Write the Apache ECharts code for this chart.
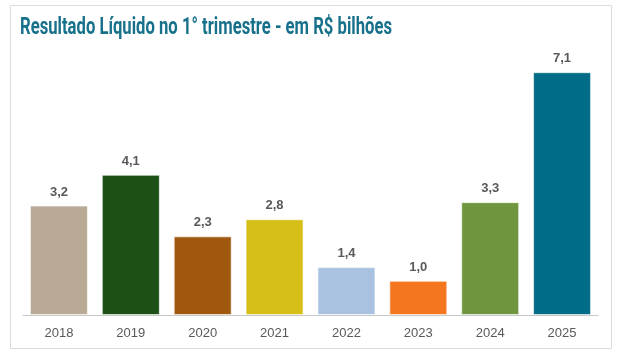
<!DOCTYPE html>
<html><head><meta charset="utf-8">
<script src="https://cdn.jsdelivr.net/npm/echarts@6/dist/echarts.min.js"></script>
<style>html,body{margin:0;padding:0;background:#fff}#c{width:619px;height:357px}</style>
</head><body><div id="c"></div>
<script>
const years = ['2018','2019','2020','2021','2022','2023','2024','2025'];
const values = [3.2, 4.1, 2.3, 2.8, 1.4, 1.0, 3.3, 7.1];
const colors = ['#b9aa95','#1d5016','#a0570e','#d6bf18','#a8c2e0','#f47720','#6f963e','#006c87'];
const titleText = 'Resultado Líquido no 1° trimestre - em R$ bilhões';

const titleFont = 'bold 23px Roboto';
const mctx = document.createElement('canvas').getContext('2d');
mctx.font = titleFont;
const tw = mctx.measureText(titleText).width;
const sx = 372 / tw;

const chart = echarts.init(document.getElementById('c'), null, {renderer:'canvas'});
chart.setOption({
  animation:false,
  backgroundColor:'#fff',
  graphic:[
    {type:'rect',shape:{x:10.5,y:5.5,width:601,height:343},style:{fill:'none',stroke:'#dcdcdc',lineWidth:1},silent:true,z:-1},
    {type:'text',x:20,y:28,scaleX:sx,style:{text:titleText,font:titleFont,fill:'#17718a',textVerticalAlign:'middle',verticalAlign:'middle'}}
  ],
  grid:{left:23,right:21,bottom:42,top:41.4,containLabel:false},
  xAxis:{type:'category',data:years,axisTick:{show:false},
    axisLine:{lineStyle:{color:'#c8c8c8',width:1}},
    axisLabel:{color:'#595959',fontSize:13,margin:12,fontFamily:'Liberation Sans'}},
  yAxis:{type:'value',min:0,max:8,show:false,splitLine:{show:false}},
  series:[{type:'bar',barWidth:58,
    data:values.map((v,i)=>({value:v,itemStyle:{color:colors[i]}})),
    itemStyle:{borderColor:'rgba(255,255,255,0.6)',borderWidth:1},
    label:{show:true,position:'top',distance:7,color:'#595959',fontWeight:'bold',fontSize:13,fontFamily:'Liberation Sans',
      formatter:p=>p.value.toFixed(1).replace('.',',')}}]
});
</script></body></html>
